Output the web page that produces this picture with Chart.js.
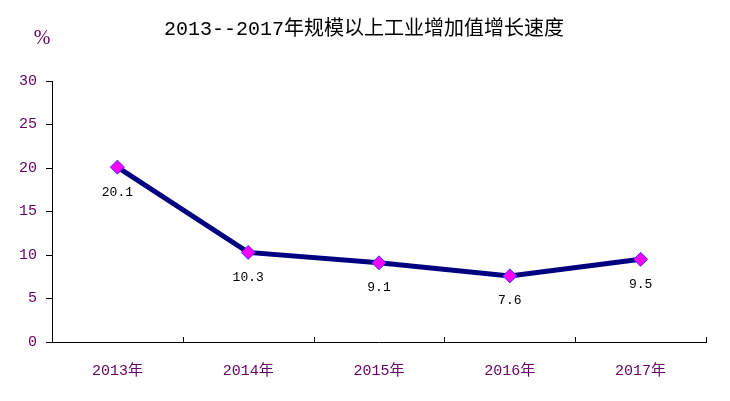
<!DOCTYPE html>
<html><head><meta charset="utf-8">
<script src="https://cdn.jsdelivr.net/npm/chart.js@4"></script>
<style>html,body{margin:0;padding:0;background:#fff}#wrap{width:730px;height:401px}</style>
</head><body><div id="wrap"><canvas id="c" width="730" height="401"></canvas></div>
<script>
const categories = ['2013年','2014年','2015年','2016年','2017年'];
const growthValues = [20.1, 10.3, 9.1, 7.6, 9.5];
const yTicks = [0, 5, 10, 15, 20, 25, 30];
const titleText = '2013--2017年规模以上工业增加值增长速度';
const unitText = '%';

const PURPLE = '#660066';
const MONO = "'Liberation Mono', 'Noto Sans CJK SC', monospace";

const decor = {
  id: 'decor',
  afterDraw(chart) {
    const ctx = chart.ctx;
    const xs = chart.scales.x, ys = chart.scales.y;
    ctx.save();
    ctx.fillStyle = '#000';
    ctx.font = '20px ' + MONO;
    ctx.textAlign = 'center';
    ctx.textBaseline = 'middle';
    ctx.fillText(titleText, 364, 30);
    ctx.fillStyle = PURPLE;
    ctx.font = "20px 'Liberation Serif', serif";
    ctx.fillText(unitText, 42, 39);
    ctx.strokeStyle = '#000';
    ctx.lineWidth = 1;
    const n = categories.length;
    for (let i = 1; i <= n; i++) {
      const x = Math.round(xs.left + i * (xs.right - xs.left) / n) + 0.5;
      ctx.beginPath();
      ctx.moveTo(x, ys.bottom - 5);
      ctx.lineTo(x, ys.bottom);
      ctx.stroke();
    }
    ctx.fillStyle = '#000';
    ctx.font = '13px ' + MONO;
    const meta = chart.getDatasetMeta(0);
    meta.data.forEach((pt, i) => {
      ctx.fillText(growthValues[i].toFixed(1), pt.x, pt.y + 25);
    });
    ctx.restore();
  }
};

new Chart(document.getElementById('c'), {
  type: 'line',
  data: {
    labels: categories,
    datasets: [{
      data: growthValues,
      borderColor: '#000080',
      borderWidth: 5,
      tension: 0,
      pointStyle: 'rectRot',
      pointRadius: 7,
      pointHoverRadius: 7,
      pointBackgroundColor: '#FF00FF',
      pointBorderColor: '#3333FF',
      pointBorderWidth: 1
    }]
  },
  options: {
    responsive: false,
    animation: false,
    events: [],
    layout: { padding: { top: 81, right: 24, left: 0, bottom: 0 } },
    plugins: { legend: { display: false }, title: { display: false }, tooltip: { enabled: false } },
    scales: {
      x: {
        offset: true,
        grid: { display: false, offset: true },
        border: { display: true, color: '#000', width: 1 },
        ticks: { color: PURPLE, font: { family: MONO, size: 15 }, padding: 12, maxRotation: 0 },
        afterFit(s) { s.height = 59; }
      },
      y: {
        min: 0, max: 30,
        afterBuildTicks(s) { s.ticks = yTicks.map(v => ({ value: v })); },
        grid: { display: true, drawOnChartArea: false, drawTicks: true, tickLength: 6, color: '#000' },
        border: { display: true, color: '#000', width: 1 },
        ticks: { color: PURPLE, font: { family: MONO, size: 15 }, padding: 9 },
        afterFit(s) { s.width = 52; }
      }
    }
  },
  plugins: [decor]
});
</script>
</body></html>
